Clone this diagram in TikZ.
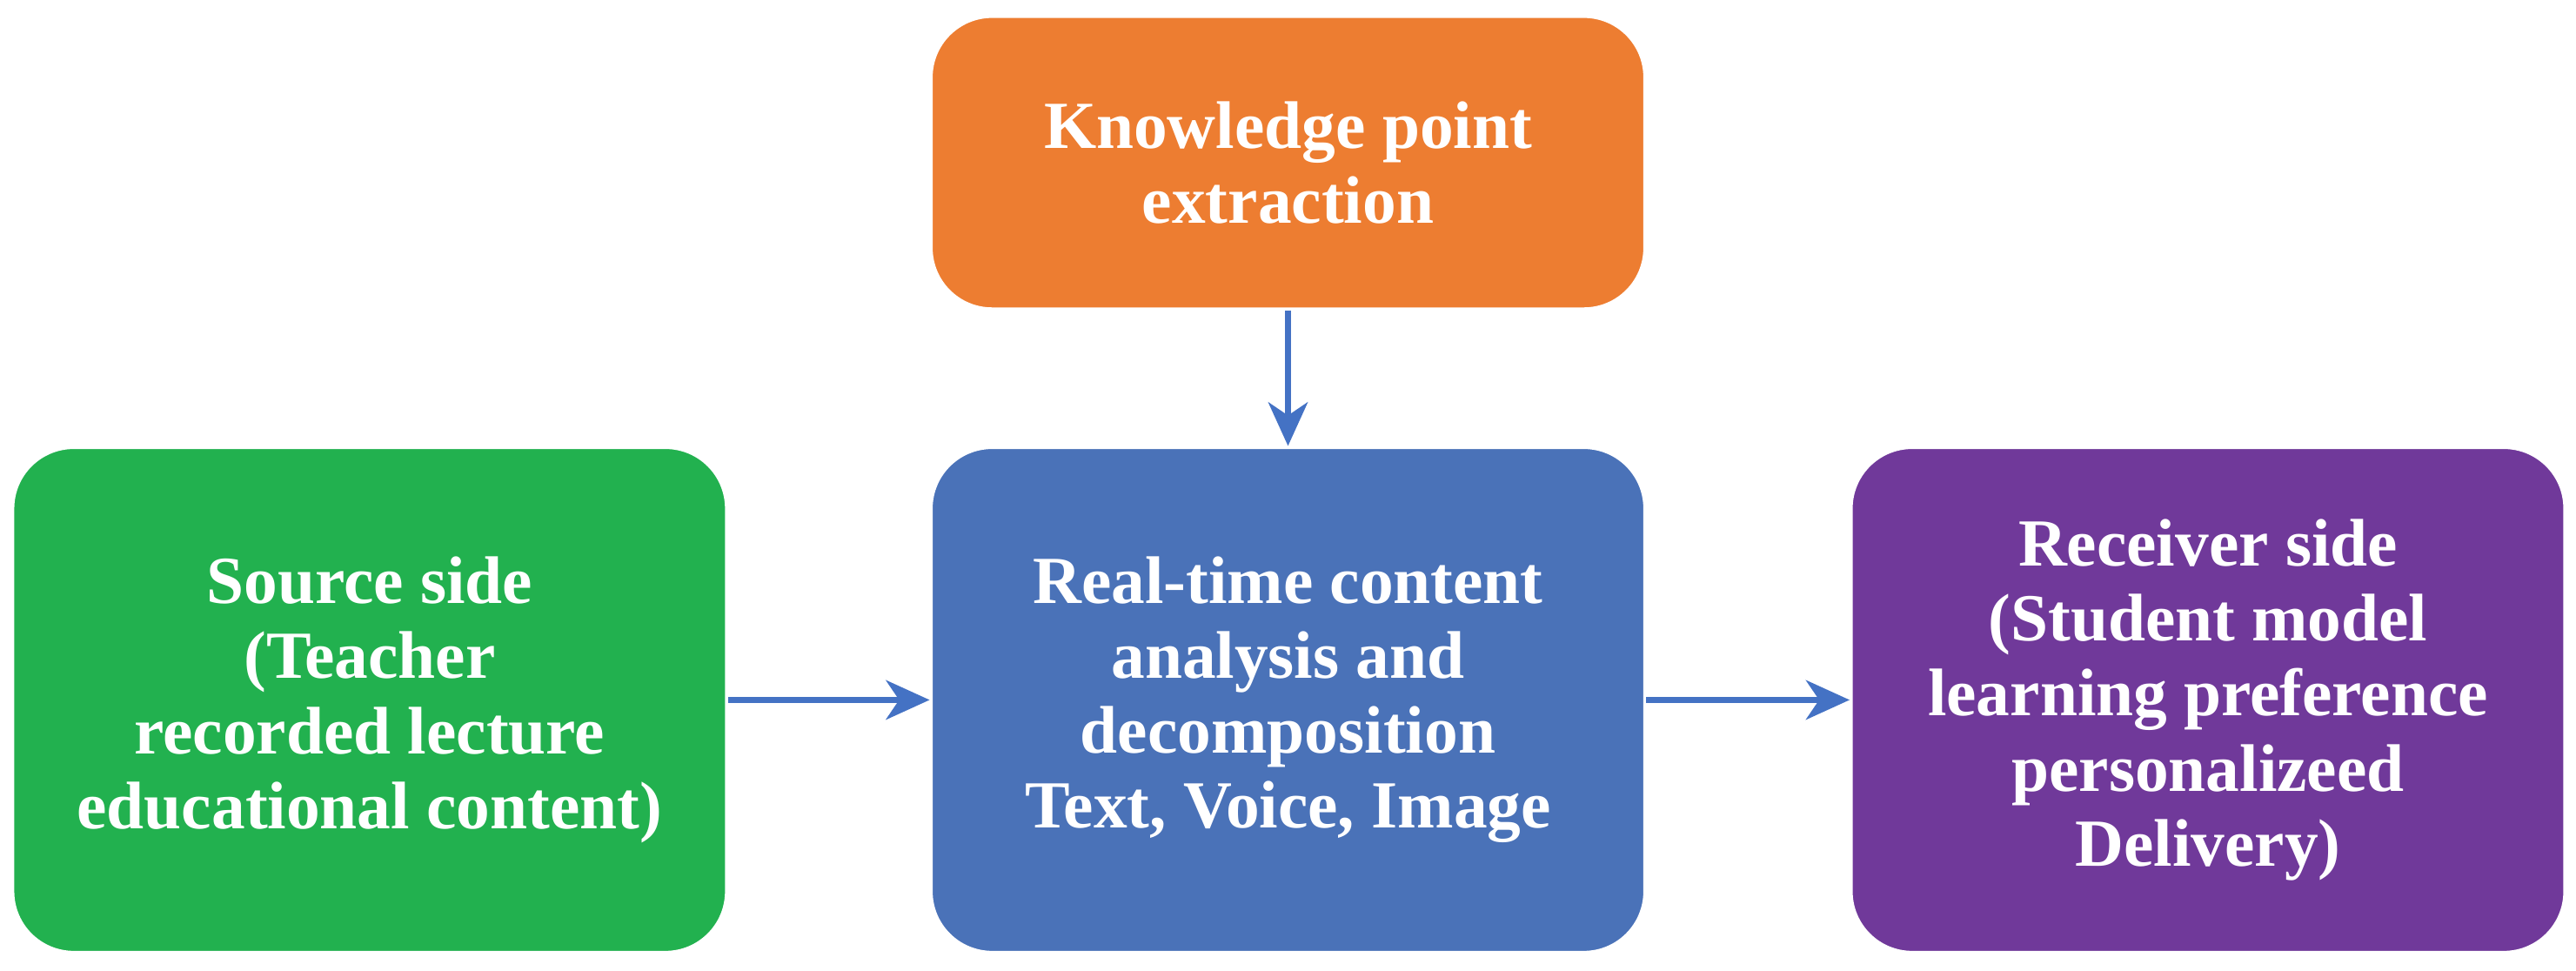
\documentclass[tikz,border=0pt]{standalone}
\usepackage{fontspec}
\setmainfont{Liberation Serif}
\usetikzlibrary{positioning,arrows.meta}
\definecolor{srcgreen}{HTML}{22B14F}
\definecolor{midblue}{HTML}{4A72B8}
\definecolor{recpurple}{HTML}{70399A}
\definecolor{kporange}{HTML}{ED7D31}
\definecolor{arrblue}{HTML}{4472C4}
\tikzset{
  box/.style={rectangle, rounded corners=0.7cm, draw=white, line width=1pt, text=white, align=center,
    font=\fontsize{22}{24.5}\selectfont\bfseries, minimum width=8.2cm, minimum height=5.8cm},
  link/.style={draw=arrblue, line width=2.2pt, -{Stealth[length=0.5cm, width=0.45cm, inset=0.15cm]}}
}
\begin{document}
\begin{tikzpicture}[x=0.01888cm, y=-0.01888cm]
        \useasboundingbox (0,0) rectangle (1568,590.5);
        \node[box, fill=srcgreen] (source) at (225,426) {Source side\\(Teacher\\recorded lecture\\educational content)};
        \node[box, fill=midblue] (analysis) at (784,426) {Real-time content\\analysis and\\decomposition\\Text, Voice, Image};
        \node[box, fill=recpurple] (receiver) at (1344,426) {Receiver side\\(Student model\\learning preference\\personalizeed\\Delivery)};
        \node[box, fill=kporange, minimum height=3.36cm] (extract) at (784,99) {Knowledge point\\extraction};

        \draw[link] (source) -- (analysis);
        \draw[link] (analysis) -- (receiver);
        \draw[link] (extract) -- (analysis);
\end{tikzpicture}
\end{document}
